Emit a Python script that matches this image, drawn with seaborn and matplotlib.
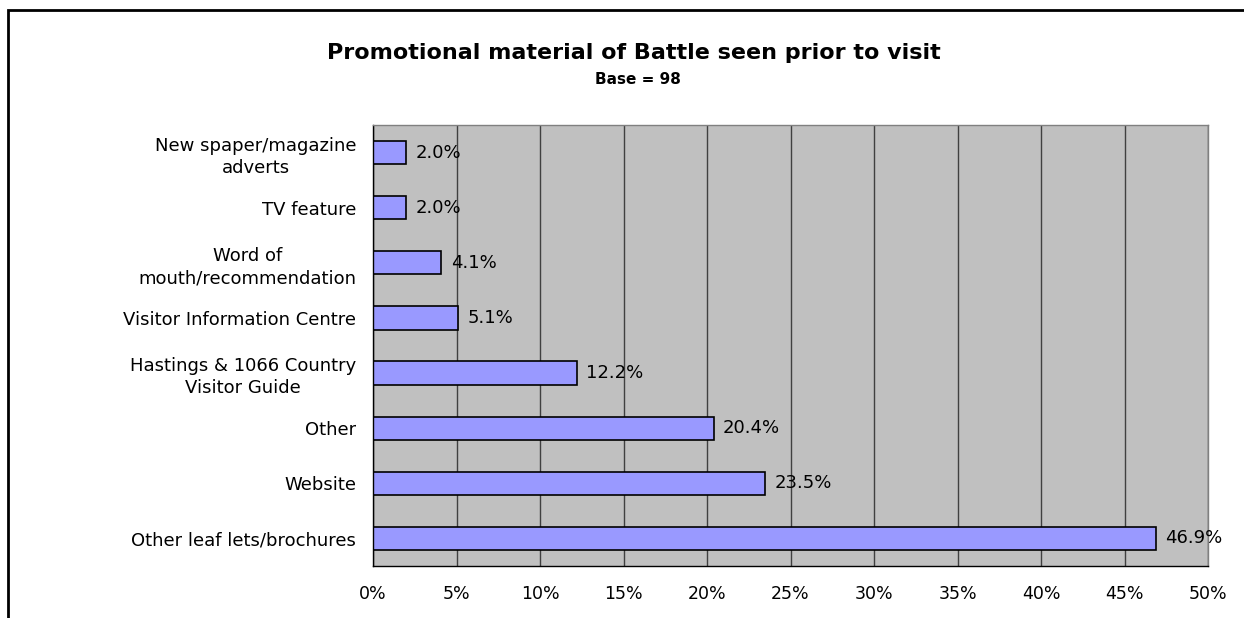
import matplotlib
matplotlib.use("Agg")
import matplotlib.pyplot as plt
from matplotlib.patches import Rectangle
from matplotlib.ticker import FixedLocator, PercentFormatter
import seaborn as sns
import pandas as pd

categories = [
    "New spaper/magazine\nadverts",
    "TV feature",
    "Word of\nmouth/recommendation",
    "Visitor Information Centre",
    "Hastings & 1066 Country\nVisitor Guide",
    "Other",
    "Website",
    "Other leaf lets/brochures",
]
values = [2.0, 2.0, 4.1, 5.1, 12.2, 20.4, 23.5, 46.9]
x_ticks = [0, 5, 10, 15, 20, 25, 30, 35, 40, 45, 50]

df = pd.DataFrame({"source": categories, "pct": values})

sns.set_style("white")
plt.rcParams["font.family"] = ["DejaVu Sans"]
plt.rcParams["text.color"] = "black"
plt.rcParams["xtick.color"] = "black"
plt.rcParams["ytick.color"] = "black"

fig = plt.figure(figsize=(12.44, 6.18), dpi=100)
ax = fig.add_axes([373 / 1244, 1 - 566 / 618, (1208 - 373) / 1244, (566 - 125) / 618])

# outer chart frame (extends past right and bottom edges)
fig.patches.append(Rectangle((8 / 1244, -0.1), 1.2, (618 - 10) / 618 + 0.1,
                             transform=fig.transFigure, fill=False,
                             edgecolor="black", linewidth=2, zorder=0))

ax.set_facecolor("#C0C0C0")
ax.set_axisbelow(True)
ax.xaxis.grid(True, color="#404040", linewidth=1)

sns.barplot(data=df, y="source", x="pct", ax=ax, orient="h",
            color="#9999FF", edgecolor="black", linewidth=1.2,
            width=0.42, saturation=1)

for i, v in enumerate(values):
    ax.text(v + 0.55, i, f"{v:.1f}%", va="center", ha="left", fontsize=13, color="black")

ax.set_xlim(0, 50)
ax.set_ylim(len(categories) - 0.5, -0.5)
ax.xaxis.set_major_locator(FixedLocator(x_ticks))
ax.xaxis.set_major_formatter(PercentFormatter(decimals=0))
ax.set_xlabel("")
ax.set_ylabel("")

# category labels right-aligned, multi-line labels centred; tick marks at category boundaries
ax.set_yticks(range(len(categories)))
ax.set_yticklabels(categories, ha="right", multialignment="center",
                   fontsize=13, linespacing=1.3)
ax.tick_params(axis="y", which="major", length=0, pad=12)
ax.set_yticks([i + 0.5 for i in range(-1, len(categories))], minor=True)
ax.tick_params(axis="y", which="minor", length=6, width=1, color="black", direction="out")
ax.tick_params(axis="x", length=6, width=1, color="black", direction="out", labelsize=12.5, pad=8)

for side in ["top", "right"]:
    ax.spines[side].set_color("#808080")
    ax.spines[side].set_linewidth(1)
for side in ["left", "bottom"]:
    ax.spines[side].set_color("black")
    ax.spines[side].set_linewidth(1)

fig.text(634 / 1244, 1 - 53 / 618, "Promotional material of Battle seen prior to visit",
         ha="center", va="center", fontsize=16, fontweight="bold")
fig.text(638 / 1244, 1 - 80 / 618, "Base = 98",
         ha="center", va="center", fontsize=11, fontweight="bold")

fig.savefig("out.png", dpi=100)
